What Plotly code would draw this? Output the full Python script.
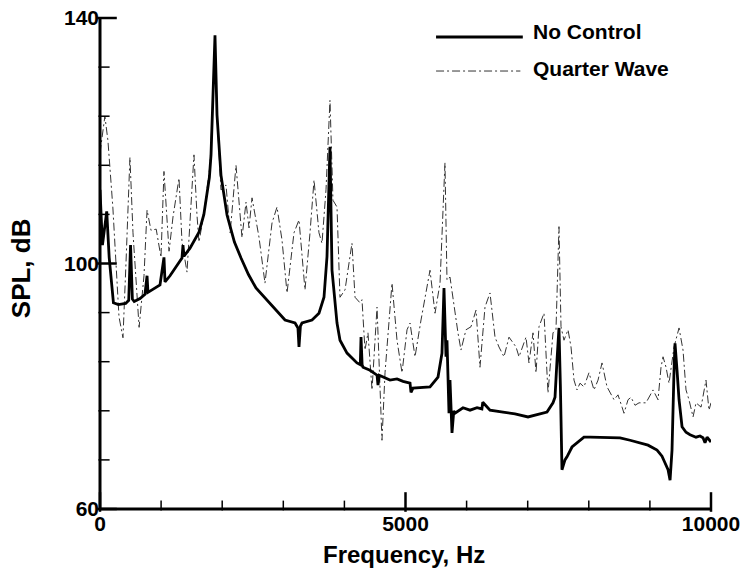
import plotly.graph_objects as go

# Sound pressure level spectra (frequency in Hz, SPL in dB)
nc_freq = [0, 40, 110, 150, 220, 300, 420, 470, 500, 530, 560, 655, 736, 770, 785, 900, 982,
           1047, 1064, 1146, 1228, 1342, 1358, 1375, 1473, 1620, 1700, 1751, 1790, 1817, 1850,
           1882, 1915, 1950, 1980, 2079, 2200, 2308, 2430, 2553, 2766, 3028, 3192, 3240, 3257,
           3280, 3306, 3470, 3584, 3666, 3715, 3748, 3764, 3797, 3846, 3879, 3928, 4043, 4206,
           4260, 4272, 4290, 4304, 4419, 4534, 4550, 4570, 4746, 4861, 4960, 5074, 5090, 5123,
           5401, 5532, 5597, 5630, 5663, 5679, 5712, 5728, 5761, 5790, 5810, 5941, 6056, 6171,
           6250, 6265, 6383, 6596, 6792, 7005, 7201, 7316, 7414, 7447, 7480, 7512, 7535, 7561,
           7610, 7643, 7725, 7807, 7921, 8020, 8184, 8347, 8511, 8675, 8790, 8969, 9117, 9198,
           9248, 9297, 9330, 9362, 9395, 9411, 9444, 9477, 9526, 9591, 9657, 9755, 9820, 9869,
           9902, 9935, 10000]
nc_spl = [112, 103, 108.5, 101, 93.6, 93.3, 93.5, 94, 103, 94.2, 93.8, 94.3, 95, 98, 95.3, 96, 96.5,
          101, 97, 98, 99.2, 100.9, 103, 101.2, 102.5, 105.1, 108, 111.2, 114, 117.7, 127,
          137.2, 124.2, 118, 114.4, 107.9, 103.5, 100.9, 98.2, 96.0, 93.6, 90.8, 90.3, 89.5, 86.4,
          89.8, 90.3, 90.8, 91.9, 94.5, 101.1, 112, 119, 98.9, 94.1, 90.3, 87.5, 85.4, 83.8,
          83.5, 88, 83.5, 83.1, 82.6, 81.8, 80.2, 81.8, 81.0, 81.2, 80.8, 80.5, 79.0, 79.7,
          79.9, 81.5, 85.4, 96.0, 84.8, 87.5, 75.6, 81, 72.4, 76, 75.6, 76.5, 76.1, 76.5,
          76.3, 77.4, 76.1, 75.8, 75.5, 75.0, 75.5, 75.8, 77.3, 78.2, 84.3, 89.5, 80, 66.4,
          68, 68.5, 70.1, 70.8, 71.7, 71.7, 71.7, 71.7, 71.6, 71.2, 70.9, 70.4, 69.6, 68.6,
          67.5, 66.4, 64.7, 69.6, 82.6, 87.0, 82.6, 77.8, 73.4, 72.5, 72.1, 71.7, 71.9, 71.6,
          70.8, 71.7, 70.9]

qw_freq = [0, 80, 130, 210, 311, 376, 425, 490, 540, 640, 720, 770, 835, 920, 998, 1047, 1130,
           1195, 1293, 1342, 1424, 1538, 1587, 1620, 1700, 1800, 1850, 1882, 1915, 1980, 2062,
           2130, 2226, 2324, 2390, 2439, 2488, 2602, 2700, 2815, 2897, 2979, 3061, 3175, 3257,
           3355, 3437, 3503, 3584, 3633, 3699, 3764, 3813, 3879, 3928, 4010, 4124, 4174, 4255,
           4288, 4337, 4386, 4452, 4534, 4615, 4665, 4779, 4861, 4943, 5025, 5074, 5156, 5254,
           5401, 5483, 5565, 5646, 5679, 5728, 5810, 5859, 5908, 5990, 6072, 6154, 6219, 6301,
           6383, 6465, 6530, 6612, 6694, 6809, 6858, 6972, 7021, 7087, 7136, 7185, 7267, 7332,
           7414, 7463, 7512, 7545, 7594, 7660, 7709, 7758, 7807, 7856, 7921, 8003, 8085, 8151,
           8216, 8298, 8413, 8478, 8544, 8576, 8642, 8691, 8757, 8822, 8936, 9002, 9051, 9133,
           9182, 9215, 9264, 9313, 9395, 9477, 9542, 9591, 9640, 9706, 9755, 9837, 9886, 9918,
           9967, 10000]
qw_spl = [118, 124, 120, 109.2, 91.3, 87.9, 100, 117.3, 105, 89.6, 98, 108.7, 105.4, 105.6, 101, 115, 102,
          107.6, 113.9, 103.5, 98.6, 117.7, 107.9, 103.5, 108, 116, 127, 136, 124, 112, 112.8,
          105, 116, 104.2, 110, 105.8, 110.7, 104.3, 96.8, 106.6, 109.2, 103.8, 95.2, 105, 107.1,
          95.7, 105, 113.6, 105, 103.3, 112, 126.6, 110.3, 109.2, 94.5, 95.7, 103.3, 94.5, 93.6,
          94.1, 85.9, 88.7, 79.4, 92.9, 71.2, 82.2, 96.8, 87.5, 82.2, 89.2, 90.3, 84.8, 90.8,
          98.9, 91.9, 96.8, 116.4, 97.3, 97.8, 91.9, 88.7, 85.9, 89.2, 89.7, 92.4, 83.1, 92.9,
          95.2, 88, 86.4, 84.8, 88, 86.4, 84.8, 88, 83.8, 88.7, 82.2, 89.7, 91.9, 78.9,
          88.7, 89.2, 106, 89.7, 87.5, 89.2, 86.4, 81, 79.4, 80.5, 79.9, 82.2, 79.4, 81,
          83.8, 79.9, 77.8, 78.6, 76.6, 75.6, 77.8, 78.2, 76.9, 77.3, 77.3, 78.6, 79.4, 77.8,
          83.1, 84.8, 83.1, 80.5, 86.4, 89.5, 85.9, 79.4, 77.8, 75.0, 77.3, 76.6, 79.4, 81.0,
          76.1, 77.3]

# Tick positions
x_major = [0, 5000, 10000]
x_minor = [1000, 2000, 3000, 4000, 6000, 7000, 8000, 9000]
y_major = [60, 100, 140]
y_minor = [68, 76, 84, 92, 108, 116, 124, 132]

FONT = "Arial, Liberation Sans, sans-serif"
QW_DASH = "8px,3px,2px,3px"
X_RANGE = [0, 10000]
Y_RANGE = [60, 140]

W, H = 745, 574
MARGIN = dict(l=100, r=34, t=18, b=65)
PLOT_W = W - MARGIN["l"] - MARGIN["r"]
PLOT_H = H - MARGIN["t"] - MARGIN["b"]
# data units per pixel, used to give tick marks a fixed on-screen length
HZ_PER_PX = (X_RANGE[1] - X_RANGE[0]) / PLOT_W
DB_PER_PX = (Y_RANGE[1] - Y_RANGE[0]) / PLOT_H

fig = go.Figure()
fig.add_trace(go.Scatter(x=qw_freq, y=qw_spl, mode="lines", name="Quarter Wave",
                         line=dict(color="#333333", width=1, dash=QW_DASH), showlegend=False))
fig.add_trace(go.Scatter(x=nc_freq, y=nc_spl, mode="lines", name="No Control",
                         line=dict(color="black", width=2.8), showlegend=False))


def x_ticks(vals, length_px, width):
    # vertical bar markers standing on the bottom axis
    return go.Scatter(x=vals, y=[Y_RANGE[0] + 0.5 * length_px * DB_PER_PX] * len(vals),
                      mode="markers", cliponaxis=False, hoverinfo="skip", showlegend=False,
                      marker=dict(symbol="line-ns-open", size=length_px, color="black",
                                  line=dict(color="black", width=width)))


def y_ticks(vals, length_px, width):
    # horizontal bar markers on the left axis
    return go.Scatter(x=[X_RANGE[0] + 0.5 * length_px * HZ_PER_PX] * len(vals), y=vals,
                      mode="markers", cliponaxis=False, hoverinfo="skip", showlegend=False,
                      marker=dict(symbol="line-ew-open", size=length_px, color="black",
                                  line=dict(color="black", width=width)))


# Inward tick marks
fig.add_trace(x_ticks(x_major, 14, 2.5))
fig.add_trace(x_ticks(x_minor, 7, 1.5))
fig.add_trace(y_ticks(y_major, 14, 2.5))
fig.add_trace(y_ticks(y_minor, 8, 1.5))

tick_font = dict(family=FONT, size=21, color="black", weight="bold")

fig.update_layout(
    width=W, height=H, margin=dict(**MARGIN, autoexpand=False),
    plot_bgcolor="white", paper_bgcolor="white",
    xaxis=dict(range=X_RANGE, tickmode="array", tickvals=x_major,
               ticktext=[str(v) for v in x_major], automargin=False,
               showline=False, showgrid=False, zeroline=False, ticks="",
               tickfont=tick_font),
    yaxis=dict(range=Y_RANGE, tickmode="array", tickvals=y_major,
               ticktext=[str(v) for v in y_major], automargin=False,
               showline=False, showgrid=False, zeroline=False, ticks="",
               tickfont=tick_font),
)

# Axis frame: left and bottom spines joined at the origin
fig.add_shape(type="path", xref="paper", yref="paper", path="M 0,1 L 0,0 L 1,0",
              line=dict(color="black", width=3), layer="above")

# Legend drawn as line samples with labels
leg_font = dict(family=FONT, size=21, color="black", weight="bold")
fig.add_shape(type="line", xref="paper", yref="paper", x0=0.55, x1=0.692, y0=0.9613, y1=0.9613,
              line=dict(color="black", width=2.8))
fig.add_shape(type="line", xref="paper", yref="paper", x0=0.55, x1=0.688, y0=0.892, y1=0.892,
              line=dict(color="#333333", width=1, dash=QW_DASH))
fig.add_annotation(text="No Control", xref="paper", yref="paper", x=0.706, y=0.9735,
                   xanchor="left", yanchor="middle", showarrow=False, font=leg_font)
fig.add_annotation(text="Quarter Wave", xref="paper", yref="paper", x=0.705, y=0.897,
                   xanchor="left", yanchor="middle", showarrow=False, font=leg_font)

# Axis titles
fig.add_annotation(text="Frequency, Hz", xref="paper", yref="paper", x=0.497, y=-0.092,
                   xanchor="center", yanchor="middle", showarrow=False,
                   font=dict(family=FONT, size=24, color="black", weight="bold"))
fig.add_annotation(text="SPL, dB", xref="paper", yref="paper", x=-0.128, y=0.49,
                   xanchor="center", yanchor="middle", textangle=-90, showarrow=False,
                   font=dict(family=FONT, size=26, color="black", weight="bold"))

fig.write_html("out.html")
